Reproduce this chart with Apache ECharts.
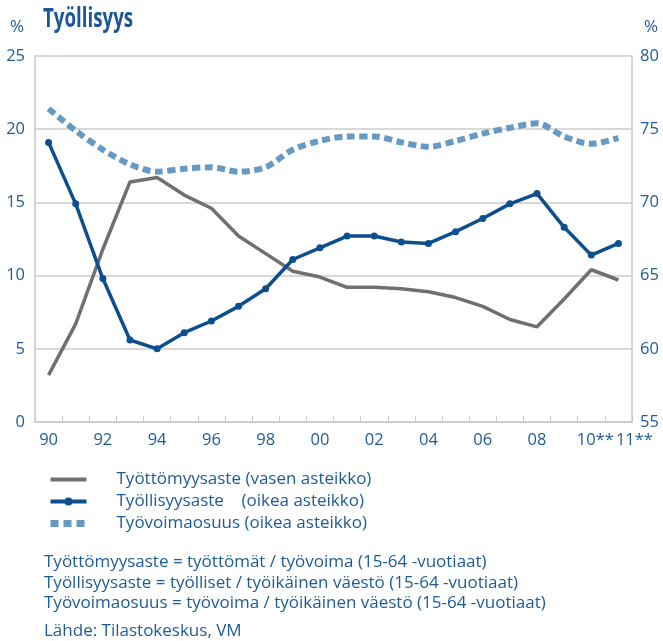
<!DOCTYPE html>
<html>
<head>
<meta charset="utf-8">
<script src="https://cdn.jsdelivr.net/npm/echarts@6/dist/echarts.min.js"></script>
<style>
html,body{margin:0;padding:0;background:#fff;}
#chart{width:663px;height:641px;}
</style>
</head>
<body>
<div id="chart"></div>
<script>
// Categories (years)
var years = ['90','91','92','93','94','95','96','97','98','99','00','01','02','03','04','05','06','07','08','09','10**','11**'];
// Työttömyysaste (left axis, %)
var unemployment = [3.2,6.7,11.8,16.4,16.7,15.5,14.6,12.7,11.5,10.3,9.9,9.2,9.2,9.1,8.9,8.5,7.9,7.0,6.5,8.4,10.4,9.7];
// Työllisyysaste (right axis, %)
var employment = [74.1,69.9,64.8,60.6,60.0,61.1,61.9,62.9,64.1,66.1,66.9,67.7,67.7,67.3,67.2,68.0,68.9,69.9,70.6,68.3,66.4,67.2];
// Työvoimaosuus (right axis, %)
var participation = [76.4,74.9,73.6,72.6,72.1,72.3,72.4,72.1,72.4,73.6,74.2,74.5,74.5,74.1,73.8,74.2,74.7,75.1,75.4,74.5,74.0,74.4];
// Series names
var names = ['Työttömyysaste (vasen asteikko)','Työllisyysaste    (oikea asteikko)','Työvoimaosuus (oikea asteikko)'];
// Notes
var notes = [
  'Työttömyysaste = työttömät / työvoima (15-64 -vuotiaat)',
  'Työllisyysaste = työlliset / työikäinen väestö (15-64 -vuotiaat)',
  'Työvoimaosuus = työvoima / työikäinen väestö (15-64 -vuotiaat)'
];
var source = 'Lähde: Tilastokeskus, VM';

var BLUE_TXT = '#1d5b98';
var FONT = "'Open Sans', 'Noto Sans', sans-serif";
var C_GRAY = '#707070', C_BLUE = '#0d4f8e', C_DASH = '#6699c4';
var chart = echarts.init(document.getElementById('chart'), null, {renderer:'canvas'});

var option = {
  animation: false,
  backgroundColor: '#fff',
  textStyle: {fontFamily: FONT},
  grid: {left: 35, right: 31, top: 56, bottom: 219, containLabel: false},
  legend: {
    orient: 'vertical', left: 47, top: 471, padding: 0,
    itemWidth: 36, itemHeight: 10, itemGap: 5,
    data: [
      {name: names[0], itemStyle: {opacity: 0}, lineStyle: {width: 4, color: C_GRAY}},
      {name: names[1], lineStyle: {width: 4, color: C_BLUE}},
      {name: names[2], itemStyle: {opacity: 0}, lineStyle: {width: 7, color: C_DASH, type: [8, 5], cap: 'butt'}}
    ],
    textStyle: {fontFamily: FONT, fontSize: 17, lineHeight: 17, color: BLUE_TXT, padding: [0,0,0,25]}
  },
  xAxis: {
    type: 'category', data: years, boundaryGap: true,
    axisLine: {show: true, lineStyle: {color: '#c8c8c8', width: 1.5}},
    axisTick: {show: true, inside: true, length: 6, interval: 0, lineStyle: {color: '#c8c8c8'}},
    axisLabel: {
      interval: function (i) { return i % 2 === 0 || i === 21; },
      margin: 10, color: BLUE_TXT, fontSize: 16.5, fontFamily: FONT,
      formatter: function (v, i) {
        if (i === 21) return '{b|' + v + '}';
        if (i === 20) return '{a|' + v + '}';
        return v;
      },
      rich: {
        a: {fontSize: 16.5, color: BLUE_TXT, fontFamily: FONT, padding: [0,0,0,8]},
        b: {fontSize: 16.5, color: BLUE_TXT, fontFamily: FONT, padding: [0,0,0,32]}
      }
    },
    splitLine: {show: false}
  },
  yAxis: [
    {
      type: 'value', min: 0, max: 25, interval: 5, position: 'left',
      axisLine: {show: true, lineStyle: {color: '#c8c8c8', width: 1.5}},
      axisTick: {show: false},
      axisLabel: {color: BLUE_TXT, fontSize: 16.5, margin: 10, fontFamily: FONT},
      splitLine: {show: true, lineStyle: {color: '#cccccc', width: 1.5}}
    },
    {
      type: 'value', min: 55, max: 80, interval: 5, position: 'right',
      axisLine: {show: true, lineStyle: {color: '#c8c8c8', width: 1.5}},
      axisTick: {show: false},
      axisLabel: {color: BLUE_TXT, fontSize: 16.5, margin: 8, fontFamily: FONT},
      splitLine: {show: false}
    }
  ],
  series: [
    {
      name: names[0], type: 'line', yAxisIndex: 0, data: unemployment,
      symbol: 'none', z: 2,
      lineStyle: {color: C_GRAY, width: 3.5},
      itemStyle: {color: C_GRAY}
    },
    {
      name: names[1], type: 'line', yAxisIndex: 1, data: employment,
      symbol: 'circle', symbolSize: 7, showSymbol: true, z: 4,
      lineStyle: {color: C_BLUE, width: 3.5},
      itemStyle: {color: C_BLUE}
    },
    {
      name: names[2], type: 'line', yAxisIndex: 1, data: participation,
      symbol: 'none', smooth: 0.3, z: 3,
      lineStyle: {color: C_DASH, width: 6, type: [8, 4.5], cap: 'butt'},
      itemStyle: {color: C_DASH}
    }
  ],
  graphic: [
    {type: 'text', x: 43, y: 7, scaleX: 0.72, style: {text: 'Työllisyys', font: "bold 26px 'Open Sans', sans-serif", fill: '#1b5797'}},
    {type: 'text', left: 10, top: 19, style: {text: '%', font: '17px ' + FONT, fill: BLUE_TXT}},
    {type: 'text', left: 644, top: 19, style: {text: '%', font: '17px ' + FONT, fill: BLUE_TXT}},
    {type: 'text', left: 44, top: 554, style: {text: notes[0], font: '17px ' + FONT, fill: BLUE_TXT}},
    {type: 'text', left: 44, top: 575, style: {text: notes[1], font: '17px ' + FONT, fill: BLUE_TXT}},
    {type: 'text', left: 44, top: 595, style: {text: notes[2], font: '17px ' + FONT, fill: BLUE_TXT}},
    {type: 'text', left: 44, top: 623, style: {text: source, font: '17px ' + FONT, fill: BLUE_TXT}}
  ]
};
chart.setOption(option);
</script>
</body>
</html>
